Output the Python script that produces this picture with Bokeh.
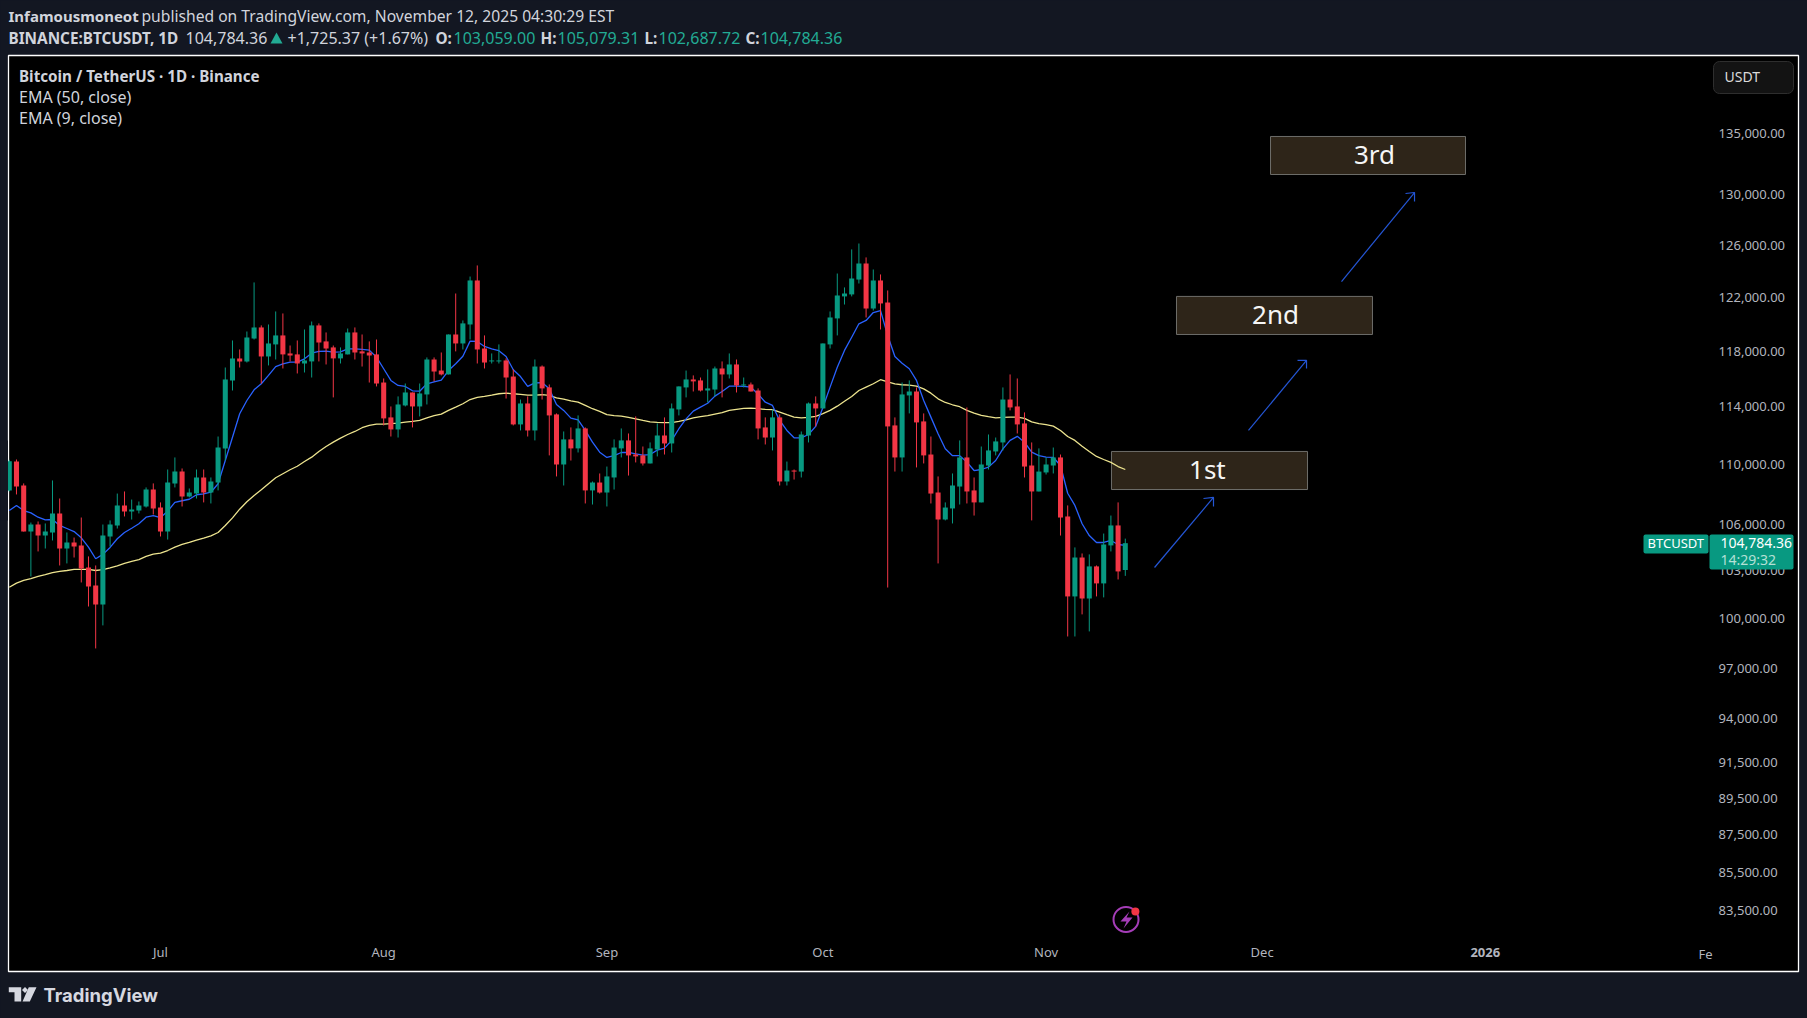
import pandas as pd
from bokeh.plotting import figure, ColumnDataSource
from bokeh.models import (Range1d, LinearAxis, LogAxis, FixedTicker, NumeralTickFormatter,
                          Label, BoxAnnotation, PolyAnnotation)
from bokeh.embed import file_html
from bokeh.resources import INLINE

# daily BTCUSDT candles, Jun 10 to Nov 12 2025
dates = pd.date_range("2025-06-10", periods=156)

opens = [108260, 110210, 108590, 105540, 106000, 105280, 105480, 106730, 104440, 104830, 104640, 103220, 102080,
         100890, 105220, 105940, 107260, 106860, 106920, 107190, 108320, 107120, 105540, 108730, 109530, 107850,
         108050, 109130, 108120, 108790, 111100, 115880, 117470, 117250, 118920, 119740, 117610, 118490, 119150,
         117830, 117760, 117100, 117250, 119890, 118710, 118270, 117470, 117760, 119370, 117980, 117900, 117760,
         115730, 113260, 112420, 114100, 115020, 114030, 114880, 117390, 116590, 116310, 119220, 118560, 119960,
         123270, 118190, 117250, 117250, 117320, 116160, 112770, 114240, 112350, 116880, 115380, 113470, 110010,
         111730, 111110, 112490, 108260, 108790, 108120, 109130, 111110, 111660, 110690, 110630, 110080, 111040,
         112000, 111450, 113820, 115380, 115950, 115880, 115160, 115230, 116740, 116310, 117030, 115520, 115590,
         115160, 112560, 111860, 113260, 108860, 109600, 109530, 112000, 114240, 113890, 118490, 120410, 122060,
         122210, 123340, 124570, 121150, 123270, 121600, 112700, 110490, 114810, 115090, 112980, 110690, 108120,
         106330, 107060, 108520, 110490, 108260, 107460, 109940, 110900, 111520, 114520, 114030, 112840, 109940,
         108190, 109470, 109940, 110490, 106530, 101390, 103860, 101260, 103290, 102210, 104640, 105940, 103059]
highs = [110330, 110350, 108730, 106130, 106200, 106070, 108930, 107720, 105480, 105150, 106460, 103930, 103350,
         106000, 106270, 108050, 108190, 107650, 107520, 108460, 108730, 107460, 109670, 110490, 109740, 108390,
         109670, 109670, 109130, 111930, 116810, 118780, 118120, 119440, 123120, 119890, 119960, 120930, 120780,
         118410, 118780, 119590, 120180, 120040, 119370, 118410, 118270, 119660, 119740, 119220, 118710, 118850,
         116020, 114030, 114740, 115660, 115020, 115660, 117540, 117540, 117900, 119220, 122280, 120260, 123570,
         124420, 119150, 117830, 118490, 117470, 116670, 114520, 114740, 117390, 116960, 115590, 113540, 112280,
         112560, 113400, 112560, 108860, 109400, 109870, 111730, 112490, 112140, 113330, 111240, 111520, 112840,
         113260, 114240, 115450, 116590, 116240, 116090, 116670, 116880, 117250, 117830, 117390, 116090, 115730,
         115310, 113260, 113820, 113470, 110210, 109670, 112280, 114310, 114740, 118560, 120930, 123800, 122740,
         125660, 126120, 125040, 124110, 123730, 122510, 113260, 115730, 115880, 115380, 113540, 111930, 109200,
         107460, 109400, 111660, 113960, 109130, 111240, 112070, 111860, 115380, 116310, 116020, 113610, 111520,
         111110, 110490, 111170, 110690, 107260, 104510, 104120, 104060, 103350, 105410, 106590, 107460, 105079.31]
lows = [108200, 107990, 105540, 102650, 104250, 104440, 104960, 103350, 103480, 103860, 102270, 100760, 98180,
        99590, 104570, 105740, 106530, 106330, 106730, 107120, 106660, 105220, 105020, 108460, 107190, 107790,
        107720, 107460, 107390, 108260, 110280, 115160, 116810, 117170, 118850, 115660, 116960, 117390, 116740,
        117250, 116380, 116450, 116090, 117250, 117030, 114670, 117100, 117760, 117390, 116880, 115730, 115450,
        112700, 111930, 111860, 114030, 112560, 113330, 114170, 115810, 116240, 116310, 117980, 118120, 118850,
        117100, 116740, 117100, 117100, 114590, 112700, 112350, 111930, 111660, 114520, 110630, 109200, 108590,
        110280, 110830, 107390, 107320, 108050, 107190, 108320, 110490, 109260, 110150, 109940, 110080, 110560,
        110690, 110830, 113400, 114670, 115090, 115090, 114310, 114740, 114670, 116020, 115020, 115380, 115090,
        111730, 111380, 110970, 108590, 108590, 108990, 109130, 111520, 112630, 113890, 118190, 119150, 121450,
        122060, 123040, 120480, 121000, 119590, 101950, 109530, 109530, 113540, 109810, 110080, 107390, 103480,
        106270, 106070, 107320, 107390, 106590, 107460, 109670, 110630, 110970, 113750, 112140, 109130, 106270,
        108190, 109330, 109400, 105280, 98910, 98910, 100270, 99220, 101390, 101330, 104250, 102460, 102687.72]
closes = [110230, 108520, 105540, 106000, 105280, 105540, 106730, 104440, 104830, 104570, 103160, 102020, 100890,
          105280, 106000, 107260, 106860, 106990, 107260, 108320, 107060, 105540, 108790, 109530, 107850, 108120,
          109130, 108120, 108860, 111170, 115950, 117470, 117250, 119000, 119740, 117610, 118560, 119150, 117760,
          117680, 117100, 117320, 119890, 118630, 118190, 117470, 117830, 119370, 117900, 117830, 117680, 115660,
          113190, 112420, 114170, 115020, 114030, 114950, 117390, 116520, 116310, 119220, 118560, 120040, 123270,
          118120, 117170, 117320, 117320, 116090, 112770, 114240, 112350, 116880, 115310, 113400, 110010, 111730,
          111110, 112490, 108260, 108790, 108120, 109200, 111170, 111660, 110630, 110560, 110080, 111110, 112000,
          111450, 113890, 115450, 115950, 115810, 115160, 115310, 116740, 116310, 117030, 115520, 115590, 115090,
          112490, 111860, 113260, 108860, 109600, 109530, 112070, 114240, 113890, 118560, 120480, 122130, 122280,
          123420, 124570, 121150, 123270, 121530, 112630, 110490, 114880, 115090, 112910, 110630, 108050, 106330,
          107120, 108590, 110490, 108190, 107460, 110010, 110970, 111590, 114520, 113960, 112770, 109870, 108190,
          109530, 110010, 110490, 106460, 101390, 103860, 101260, 103290, 102210, 104700, 105940, 102970, 104784.36]

ema9 = [106920, 107260, 106920, 106770, 106480, 106310, 106330, 105940, 105740, 105540, 105130, 104530, 103780,
        104060, 104510, 105070, 105480, 105760, 106050, 106480, 106590, 106460, 106880, 107460, 107570, 107670,
        107970, 108030, 108140, 108710, 110280, 111880, 113520, 114450, 115210, 115640, 116240, 116880, 117080,
        117200, 117200, 117440, 117850, 117980, 118000, 117930, 117950, 118170, 118170, 118120, 118070, 117560,
        116720, 115880, 115520, 115450, 115140, 115110, 115640, 115780, 115900, 116590, 117080, 117630, 118730,
        118710, 118340, 118170, 118030, 117610, 116650, 116160, 115450, 115710, 115730, 115280, 114170, 113750,
        113210, 113090, 112350, 111540, 110850, 110490, 110610, 110830, 110830, 110740, 110650, 110690, 110990,
        111130, 111660, 112470, 113160, 113700, 113980, 114260, 114760, 115090, 115470, 115470, 115450, 115400,
        114900, 114330, 114100, 113050, 112350, 111840, 111840, 112070, 112630, 113960, 115400, 116830, 118050,
        119020, 120010, 120260, 120850, 121000, 119150, 117610, 117120, 116720, 115880, 114450, 113280, 112120,
        111080, 110610, 110610, 110170, 109600, 109670, 109830, 110280, 111080, 111660, 111940, 111540, 110850,
        110610, 110510, 110490, 109940, 108070, 107260, 106050, 105280, 104830, 104830, 104960, 104700, 104640]
ema50 = [101970, 102230, 102400, 102520, 102650, 102760, 102890, 102970, 103030, 103100, 103100, 103100, 103030,
         103080, 103200, 103330, 103480, 103610, 103730, 103930, 104080, 104140, 104310, 104530, 104700, 104830,
         104980, 105110, 105260, 105480, 105940, 106440, 107010, 107500, 107920, 108300, 108710, 109110, 109380,
         109650, 109890, 110210, 110510, 110900, 111240, 111540, 111820, 112070, 112280, 112540, 112700, 112790,
         112790, 112820, 112860, 112930, 112980, 113050, 113230, 113380, 113490, 113750, 113980, 114220, 114520,
         114670, 114740, 114830, 114930, 114970, 114930, 114880, 114830, 114830, 114860, 114810, 114640, 114550,
         114430, 114330, 114100, 113870, 113680, 113450, 113380, 113350, 113260, 113160, 113050, 112950, 112910,
         112890, 112890, 112980, 113090, 113230, 113310, 113380, 113490, 113590, 113750, 113820, 113890, 113910,
         113870, 113820, 113800, 113630, 113450, 113280, 113230, 113260, 113330, 113520, 113750, 114050, 114400,
         114740, 115160, 115400, 115640, 115930, 115780, 115640, 115570, 115540, 115470, 115280, 114970, 114570,
         114310, 114150, 114010, 113750, 113560, 113400, 113310, 113230, 113260, 113280, 113280, 113190, 112950,
         112820, 112750, 112650, 112350, 111930, 111660, 111260, 110900, 110560, 110350, 110150, 109870, 109670]

price_ticks = [135000, 130000, 126000, 122000, 118000, 114000, 110000, 106000, 103000, 100000,
               97000, 94000, 91500, 89500, 87500, 85500, 83500]
month_ticks = ["2025-07-01", "2025-08-01", "2025-09-01", "2025-10-01", "2025-11-01", "2025-12-01"]
month_labels = ["Jul", "Aug", "Sep", "Oct", "Nov", "Dec"]
year_tick = "2026-01-01"

# drawn target boxes, in days from Jul 1 and price
box_labels = ["1st", "2nd", "3rd"]
box_label_x = [145.4, 154.86, 168.6]
box_left = [132.08, 141.11, 154.17]
box_right = [159.31, 168.33, 181.25]
box_top = [110900, 122060, 134750]
box_bottom = [108320, 119220, 131620]
arrow_xs = [[138.06, 146.25], [151.11, 159.17], [164.03, 174.17]]
arrow_ys = [[103220, 107790], [112350, 117320], [123190, 130160]]
head_xs = [[144.86, 146.25, 146.25], [157.92, 159.17, 159.17], [172.92, 174.17, 174.17]]
head_ys = [[107720, 107790, 107190], [117320, 117320, 116740], [130080, 130160, 129440]]

GREEN = "#089981"
RED = "#F23645"
BG = "#131722"
BLUE = "#2962FF"
YELLOW = "#EDE48F"
FONT = "Noto Sans"

jul1 = pd.Timestamp("2025-07-01")
x = [(d - jul1).days for d in dates]

source = ColumnDataSource(data=dict(
    x=x, open=opens, high=highs, low=lows, close=closes,
    top=[max(a, b) for a, b in zip(opens, closes)],
    bottom=[min(a, b) for a, b in zip(opens, closes)],
    color=[GREEN if c >= o else RED for o, c in zip(opens, closes)],
))

# the frame fills the page, the black chart panel is a box inside it
p = figure(width=1807, height=1018, output_backend="svg", toolbar_location=None,
           y_axis_type="log", x_axis_location=None, y_axis_location=None,
           x_range=Range1d(-22.22, 228.75), y_range=Range1d(78097, 146572),
           min_border=0, background_fill_color=BG, border_fill_color=BG)
p.grid.visible = False
p.outline_line_color = None


def box(l, r, t, b, fill, line=None, radius=2, width=1, level="overlay"):
    p.add_layout(BoxAnnotation(left=l, right=r, top=t, bottom=b, level=level,
                               left_units="canvas", right_units="canvas", top_units="canvas", bottom_units="canvas",
                               fill_color=fill, fill_alpha=1, line_color=line, line_alpha=1, line_width=width,
                               border_radius=radius))


def text(x, y, t, color="#D1D4DC", size=16, bold=False, font=FONT):
    p.add_layout(Label(x=x, y=y, x_units="canvas", y_units="canvas", text=t, text_color=color, level="overlay",
                       text_font=font, text_font_size=f"{size}px", text_baseline="middle",
                       text_font_style="bold" if bold else "normal"))


box(8, 1798, 55, 971, "#000000", "#FFFFFF", 0, 1.3, level="underlay")

# target boxes sit under the price lines
p.quad(left=box_left, right=box_right, top=box_top, bottom=box_bottom,
       fill_color="#2E2519", line_color="#6E6E6A", line_width=1)

p.line(x, ema50, color=YELLOW, line_width=1.3)
p.line(x, ema9, color=BLUE, line_width=1.3)
p.segment("x", "high", "x", "low", color="color", line_width=1, source=source)
p.vbar("x", 0.7, "top", "bottom", fill_color="color", line_color=None, source=source)
box(0, 7.5, 440, 520, BG, None, 0)  # first candle is cut by the panel edge

p.multi_line(arrow_xs, arrow_ys, line_color="#2456D6", line_width=1.2)
p.multi_line(head_xs, head_ys, line_color="#2456D6", line_width=1.2)
for i, t in enumerate(box_labels):
    p.add_layout(Label(x=box_label_x[i], y=(box_top[i] * box_bottom[i]) ** 0.5 * 1.001,
                       text=t, text_color="#F5F5F5", text_font=FONT, text_font_size="26px",
                       text_align="center", text_baseline="middle"))

# axes sit inside the black panel, like on the TradingView chart
price_axis = LogAxis(fixed_location=215.57, ticker=FixedTicker(ticks=price_ticks),
                     formatter=NumeralTickFormatter(format="0,0.00"))
month_axis = LinearAxis(fixed_location=82110,
                        ticker=FixedTicker(ticks=[(pd.Timestamp(m) - jul1).days for m in month_ticks]),
                        major_label_overrides={(pd.Timestamp(m) - jul1).days: l for m, l in zip(month_ticks, month_labels)})
year_axis = LinearAxis(fixed_location=82110, ticker=FixedTicker(ticks=[(pd.Timestamp(year_tick) - jul1).days]),
                       major_label_overrides={(pd.Timestamp(year_tick) - jul1).days: "2026"},
                       major_label_text_font_style="bold")
for ax in (price_axis, month_axis, year_axis):
    ax.axis_line_color = None
    ax.major_tick_line_color = None
    ax.minor_tick_line_color = None
    ax.major_label_standoff = 0
    ax.major_label_text_font = FONT
    ax.major_label_text_font_size = "13px"
    ax.major_label_text_color = "#B2B5BE"
year_axis.major_label_standoff = 5
p.add_layout(price_axis, "right")
p.add_layout(month_axis, "below")
p.add_layout(year_axis, "below")
text(1698, 953, "Fe", color="#B2B5BE", size=13)

text(8, 15.5, "Infamousmoneot", bold=True, size=15)
text(141, 15.5, "published on TradingView.com, November 12, 2025 04:30:29 EST", size=15.65)
text(8, 37.5, "BINANCE:BTCUSDT, 1D", bold=True, size=15.3)
text(185, 37.5, "104,784.36")
p.add_layout(PolyAnnotation(xs=[270, 276, 282], ys=[43, 32, 43], xs_units="canvas", ys_units="canvas",
                            fill_color="#22AB94", fill_alpha=1, line_color=None))
text(287, 37.5, "+1,725.37 (+1.67%)")
for lx, vx, name, val in [(435, 453, "O:", "103,059.00"), (540, 557, "H:", "105,079.31"),
                          (644, 658, "L:", "102,687.72"), (745, 760, "C:", "104,784.36")]:
    text(lx, 37.5, name, bold=True, size=15.3)
    text(vx, 37.5, val, color="#22AB94")

text(18.5, 75, "Bitcoin / TetherUS · 1D · Binance", bold=True, size=15.2)
text(18.5, 96, "EMA (50, close)")
text(18.5, 117, "EMA (9, close)")

# currency button and last price tags
box(1713, 1793, 61, 93, "#131313", "#2E2E2E", 6)
text(1724, 76, "USDT", color="#DBDBDB", size=14)
box(1643, 1708, 534, 553, GREEN)
box(1709, 1793, 534, 569, GREEN)
text(1647, 542.5, "BTCUSDT", color="#FFFFFF", size=13)
text(1720, 542.5, "104,784.36", color="#FFFFFF", size=14)
text(1720, 558.5, "14:29:32", color="#B5E0D6", size=14)

# bolt icon on the time axis
p.scatter([134.1], [83029], marker="circle", size=25, fill_color=None, line_color="#A53DB8", line_width=2)
p.patch([134.58, 133.33, 134.17, 133.75, 135.0, 134.17], [83441, 82926, 82926, 82568, 83132, 83132],
        fill_color="#A53DB8", line_color=None)
p.scatter([135.4], [83441], marker="circle", size=8, fill_color=RED, line_color=None)

# TradingView logo
logo = "#D6D8E0"
for xs, ys in [([8.3, 20.7, 20.7, 14, 14, 8.3], [986.7, 986.7, 1001, 1001, 991.7, 991.7]),
               ([28.3, 36, 29.3, 22], [986.7, 986.7, 1001, 1001]),
               ([21.5, 24.5, 27.5, 24.5], [989.5, 986.5, 989.5, 992.5])]:
    p.add_layout(PolyAnnotation(xs=xs, ys=ys, xs_units="canvas", ys_units="canvas",
                                fill_color=logo, fill_alpha=1, line_color=None))
text(43, 994, "TradingView", color=logo, size=18.5, bold=True, font="Inter")

html = file_html(p, INLINE).replace("</head>", f"<style>html,body{{background:{BG};margin:0}}</style></head>")
open("out.html", "w").write(html)
